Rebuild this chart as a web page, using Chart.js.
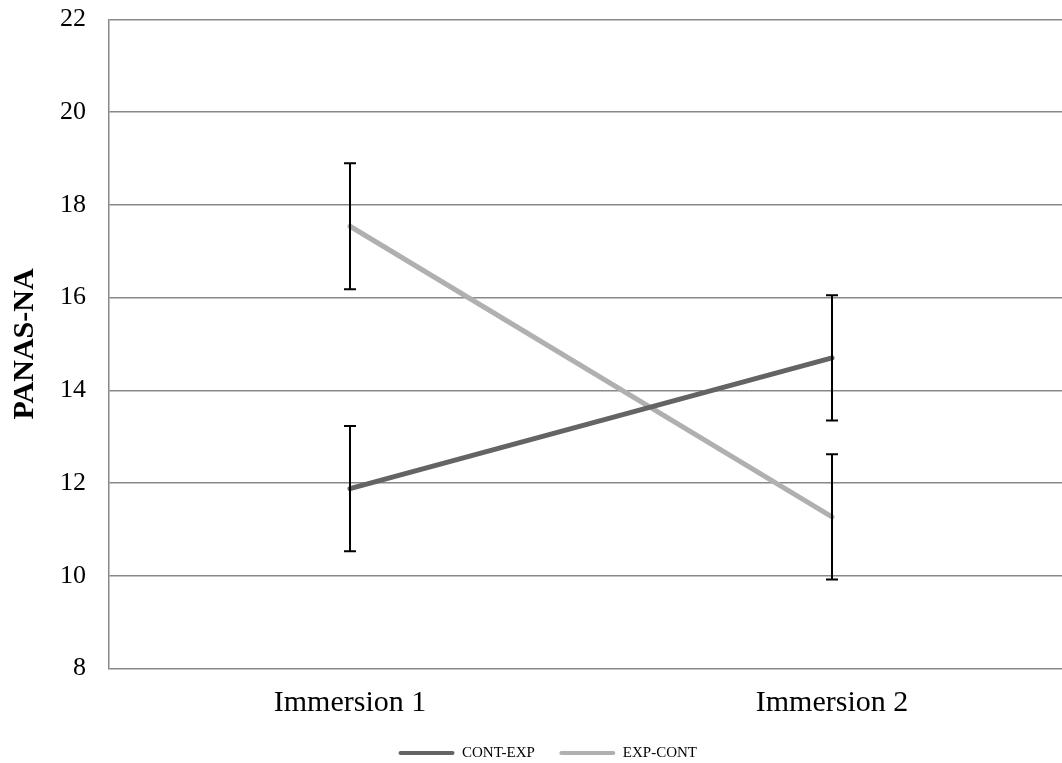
<!DOCTYPE html>
<html>
<head>
<meta charset="utf-8">
<script src="https://cdn.jsdelivr.net/npm/chart.js@4.4.1/dist/chart.umd.min.js"></script>
<style>
  html, body { margin: 0; padding: 0; background: #fff; overflow: hidden; }
  #wrap { width: 1062px; height: 763px; overflow: hidden; position: relative; }
  canvas { position: absolute; left: 0; top: 0; }
</style>
</head>
<body>
<div id="wrap"><canvas id="chart" width="1074" height="763"></canvas></div>
<script>
// Mean PANAS-NA per immersion for each order group, with error bar half-lengths
const categories = ['Immersion 1', 'Immersion 2'];
const seriesNames = ['CONT-EXP', 'EXP-CONT'];
const contExp = [11.88, 14.70];
const expCont = [17.54, 11.27];
const contExpErr = [1.35, 1.35];
const expContErr = [1.36, 1.35];
const yMin = 8, yMax = 22, yStep = 2;

const serif = '"Liberation Serif", "Times New Roman", serif';

// Vertical error bars with caps, placed through the chart's own scales
const errorBars = {
  id: 'errorBars',
  afterDatasetsDraw(chart) {
    const ctx = chart.ctx;
    const yScale = chart.scales.y;
    chart.data.datasets.forEach((ds, di) => {
      const meta = chart.getDatasetMeta(di);
      ds.errors.forEach((e, i) => {
        const x = meta.data[i].x;
        const yTop = yScale.getPixelForValue(ds.data[i] + e);
        const yBot = yScale.getPixelForValue(ds.data[i] - e);
        ctx.save();
        ctx.strokeStyle = '#000';
        ctx.lineWidth = 2;
        ctx.beginPath();
        ctx.moveTo(x, yTop); ctx.lineTo(x, yBot);
        ctx.moveTo(x - 6, yTop); ctx.lineTo(x + 6, yTop);
        ctx.moveTo(x - 6, yBot); ctx.lineTo(x + 6, yBot);
        ctx.stroke();
        ctx.restore();
      });
    });
  }
};

new Chart(document.getElementById('chart'), {
  type: 'line',
  data: {
    labels: categories,
    datasets: [
      { label: seriesNames[0], data: contExp, errors: contExpErr,
        borderColor: '#646464', backgroundColor: '#646464', borderWidth: 5,
        pointRadius: 0, borderCapStyle: 'round' },
      { label: seriesNames[1], data: expCont, errors: expContErr,
        borderColor: '#b0b0b0', backgroundColor: '#b0b0b0', borderWidth: 5,
        pointRadius: 0, borderCapStyle: 'round' }
    ]
  },
  options: {
    responsive: false,
    animation: false,
    layout: { padding: { top: 19.5, right: 1, bottom: 0, left: 22.5 } },
    plugins: {
      tooltip: { enabled: false },
      legend: {
        position: 'bottom',
        maxHeight: 42,
        labels: {
          font: { family: serif, size: 15 },
          color: '#000',
          boxWidth: 56,
          boxHeight: 4,
          useBorderRadius: true,
          borderRadius: 2,
          padding: 24.5,
          generateLabels(chart) {
            return chart.data.datasets.map((ds, i) => ({
              text: ds.label,
              fillStyle: ds.borderColor,
              strokeStyle: ds.borderColor,
              lineWidth: 0,
              hidden: false,
              datasetIndex: i,
              borderRadius: 2,
              fontColor: '#000'
            }));
          }
        }
      }
    },
    scales: {
      x: {
        offset: true,
        afterFit(scale) {
          scale.height = 52.5;
          scale.paddingLeft = 0; scale.paddingRight = 0;
        },
        grid: { display: false, drawTicks: false },
        border: { display: false },
        ticks: { font: { family: serif, size: 30 }, color: '#000', padding: 16.5, maxRotation: 0 }
      },
      y: {
        min: yMin, max: yMax,
        afterFit(scale) {
          scale.width = 86.5;
          scale.paddingTop = 0; scale.paddingBottom = 0;
        },
        ticks: { stepSize: yStep, font: { family: serif, size: 26 }, color: '#000', padding: 23 },
        grid: { color: '#888', lineWidth: 1.5, drawTicks: false },
        border: { color: '#888', width: 1.5 },
        title: {
          display: true, text: 'PANAS-NA', color: '#000',
          font: { family: serif, size: 30, weight: 'bold' },
          padding: { top: -15.5, bottom: 0 }
        }
      }
    }
  },
  plugins: [errorBars]
});
</script>
</body>
</html>
